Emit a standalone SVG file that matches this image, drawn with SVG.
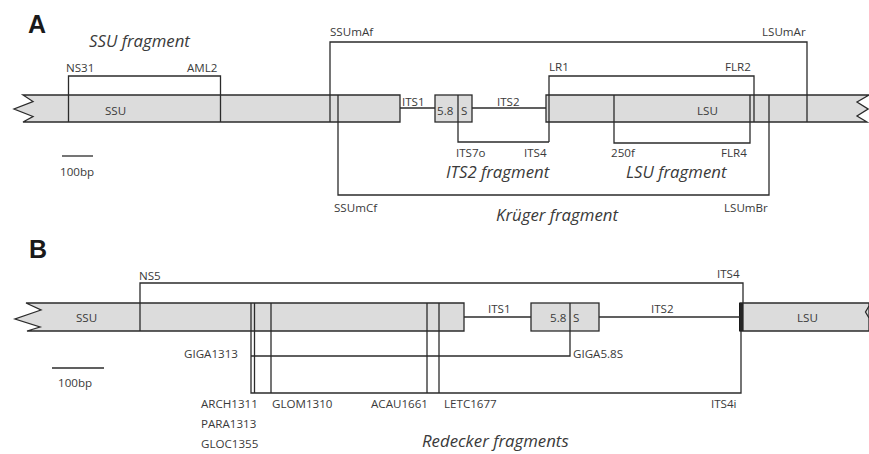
<svg xmlns="http://www.w3.org/2000/svg" width="869" height="454" viewBox="0 0 869 454">
<style>
.bar{fill:#dcdcdc;stroke:#2b2b2b;stroke-width:1.3}
.ln{fill:none;stroke:#2b2b2b;stroke-width:1.3}
.lb{font-family:"Open Sans","Liberation Sans",sans-serif;font-size:11.6px;fill:#3a3a3a}
.it{font-family:"Open Sans","Liberation Sans",sans-serif;font-size:16.8px;font-style:italic;fill:#3a3a3a}
.pn{font-family:"Liberation Sans",Arial,sans-serif;font-size:25px;font-weight:bold;fill:#1a1a1a}
</style>
<rect width="869" height="454" fill="#ffffff"/>

<!-- Panel A -->
<text class="pn" x="28" y="33">A</text>
<g id="A-rDNA">
  <path class="bar" d="M23,95 L400,95 L400,122 L23,122 L33,116.5 L14,109 L33,101.5 Z"/>
  <rect class="bar" x="435" y="95" width="37" height="27"/>
  <path class="bar" d="M546,95 L869,95 L857,102 L868,109 L857,116 L867,122 L546,122 Z"/>
  <line class="ln" x1="400" y1="108" x2="435" y2="108"/>
  <line class="ln" x1="472" y1="108" x2="546" y2="108"/>
  <text class="lb" x="105" y="115">SSU</text>
  <text class="lb" x="402" y="106">ITS1</text>
  <text class="lb" x="437" y="115">5.8</text>
  <text class="lb" x="461" y="115">S</text>
  <text class="lb" x="497" y="106">ITS2</text>
  <text class="lb" x="697" y="115">LSU</text>
</g>
<g id="A-scale">
  <line class="ln" x1="62" y1="156" x2="93" y2="156"/>
  <text class="lb" x="60" y="176">100bp</text>
</g>
<g id="A-connectors">
  <polyline class="ln" points="68.5,122 68.5,76 220.5,76 220.5,122"/>
  <polyline class="ln" points="330,122 330,42 807,42 807,122"/>
  <polyline class="ln" points="338,95 338,195 769,195 769,95"/>
  <polyline class="ln" points="549,142 549,76 754,76 754,122"/>
  <polyline class="ln" points="458,95 458,142 549,142"/>
  <polyline class="ln" points="614,95 614,143 750,143 750,95"/>
</g>
<g id="A-ssu-fragment">
  <text class="it" x="89" y="47">SSU fragment</text>
  <text class="lb" x="66" y="72">NS31</text>
  <text class="lb" x="187" y="72">AML2</text>
</g>
<g id="A-kruger-fragment">
  <text class="lb" x="330" y="36">SSUmAf</text>
  <text class="lb" x="762" y="36">LSUmAr</text>
  <text class="lb" x="334" y="212">SSUmCf</text>
  <text class="lb" x="724" y="212">LSUmBr</text>
  <text class="it" x="496" y="221">Krüger fragment</text>
</g>
<g id="A-its2-fragment">
  <text class="lb" x="456" y="157">ITS7o</text>
  <text class="lb" x="524" y="157">ITS4</text>
  <text class="it" x="446" y="178">ITS2 fragment</text>
</g>
<g id="A-lsu-fragment">
  <text class="lb" x="549" y="71">LR1</text>
  <text class="lb" x="725" y="71">FLR2</text>
  <text class="lb" x="611" y="157">250f</text>
  <text class="lb" x="721" y="157">FLR4</text>
  <text class="it" x="626" y="178">LSU fragment</text>
</g>

<!-- Panel B -->
<text class="pn" x="29" y="258">B</text>
<g id="B-rDNA">
  <path class="bar" d="M26,303 L464,303 L464,331 L27,331 L40,327 L15,319 L41,310 Z"/>
  <rect class="bar" x="531" y="303" width="68" height="28"/>
  <path class="bar" d="M740,303 L869,303 L869,331 L740,331 Z"/>
  <rect x="739" y="303" width="4" height="28" fill="#1a1a1a"/>
  <polyline class="ln" points="869,306 865.5,312 869,318"/>
  <line class="ln" x1="464" y1="317" x2="531" y2="317"/>
  <line class="ln" x1="599" y1="317" x2="740" y2="317"/>
  <text class="lb" x="76" y="322">SSU</text>
  <text class="lb" x="488" y="313">ITS1</text>
  <text class="lb" x="550" y="322">5.8</text>
  <text class="lb" x="573" y="322">S</text>
  <text class="lb" x="651" y="313">ITS2</text>
  <text class="lb" x="797" y="322">LSU</text>
</g>
<g id="B-scale">
  <line class="ln" x1="52" y1="368" x2="104" y2="368"/>
  <text class="lb" x="58" y="387">100bp</text>
</g>
<g id="B-connectors">
  <polyline class="ln" points="140,331 140,283 743,283 743,331"/>
  <polyline class="ln" points="251,303 251,393 741,393 741,303"/>
  <line class="ln" x1="254.5" y1="303" x2="254.5" y2="393"/>
  <line class="ln" x1="271" y1="303" x2="271" y2="393"/>
  <line class="ln" x1="427" y1="303" x2="427" y2="393"/>
  <line class="ln" x1="439" y1="303" x2="439" y2="393"/>
  <polyline class="ln" points="251,356 570,356 570,303"/>
</g>
<g id="B-ns5-its4">
  <text class="lb" x="139" y="280">NS5</text>
  <text class="lb" x="717" y="278">ITS4</text>
</g>
<g id="B-redecker-fragments">
  <text class="lb" x="184" y="358">GIGA1313</text>
  <text class="lb" x="573" y="358">GIGA5.8S</text>
  <text class="lb" x="201" y="408">ARCH1311</text>
  <text class="lb" x="272" y="408">GLOM1310</text>
  <text class="lb" x="371" y="408">ACAU1661</text>
  <text class="lb" x="444" y="408">LETC1677</text>
  <text class="lb" x="711" y="408">ITS4i</text>
  <text class="lb" x="201" y="428">PARA1313</text>
  <text class="lb" x="201" y="448">GLOC1355</text>
  <text class="it" x="422" y="447">Redecker fragments</text>
</g>
</svg>
